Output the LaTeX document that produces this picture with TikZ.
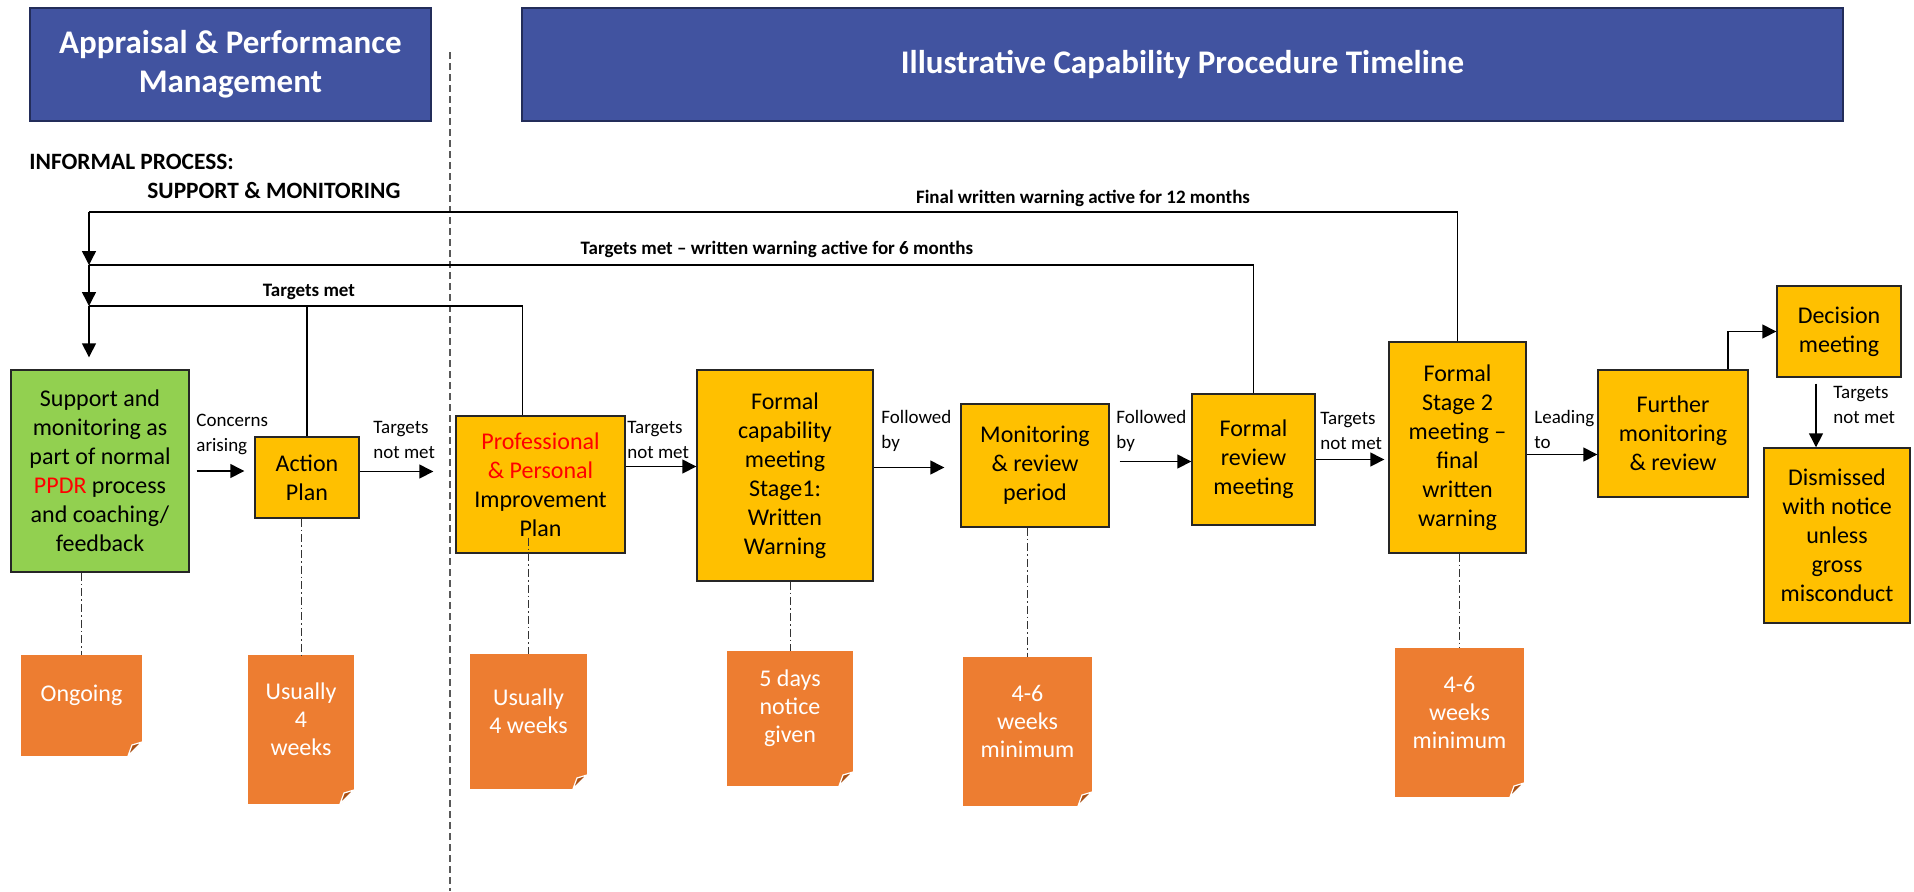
\documentclass[tikz,border=0pt]{standalone}
\usepackage{fontspec}
\setmainfont{Carlito}
\usepackage{xcolor}
\usetikzlibrary{arrows.meta}

\definecolor{hdrblue}{RGB}{65,83,160}
\definecolor{hdrline}{RGB}{35,45,90}
\definecolor{suppgreen}{RGB}{146,208,80}
\definecolor{stageamber}{RGB}{255,192,0}
\definecolor{noteorange}{RGB}{237,125,49}
\definecolor{notefold}{RGB}{170,80,20}

\newcommand{\notebody}[3]{\parbox[c][#2][c]{#1}{\centering #3\par\vspace{10pt}}}

\tikzset{
    hdr/.style={draw=hdrline, line width=0.8pt, fill=hdrblue, text=white, align=center,
        font=\bfseries\fontsize{16.5}{19.5}\selectfont, inner sep=0pt},
    phase/.style={anchor=west, inner sep=0pt, font=\bfseries\fontsize{11.7}{14}\selectfont},
    stage/.style={draw=black!85, line width=0.7pt, fill=stageamber, align=center,
        font=\fontsize{12}{14.5}\selectfont, inner sep=0pt},
    notecard/.style={fill=noteorange, text=white, inner sep=0pt,
        font=\fontsize{12}{14}\selectfont,
        path picture={
            \fill[white] (path picture bounding box.south east) -- ++(-7pt,0pt) -- ++(7pt,7pt) -- cycle;
            \filldraw[notefold, draw=white, line width=0.6pt] ([xshift=-7pt]path picture bounding box.south east)
                -- ++(7pt,7pt) -- ++(-5pt,-1.5pt) -- cycle;
        }},
    lbl/.style={anchor=west, align=left, inner sep=0pt, font=\fontsize{9.5}{12.5}\selectfont},
    toplbl/.style={inner sep=0pt, font=\bfseries\fontsize{9.5}{11}\selectfont},
    link/.style={line width=0.7pt},
    arr/.style={line width=0.7pt, -{Triangle[length=7pt,width=7pt]}},
    timing/.style={line width=0.5pt, black!80, dash pattern=on 4pt off 1.5pt on 0.8pt off 1.5pt},
    divider/.style={line width=0.7pt, black!65, dash pattern=on 3.5pt off 2pt}
}

\begin{document}
\begin{tikzpicture}[x=0.5pt,y=-0.5pt]
    \useasboundingbox (0,0) rectangle (1914,891);

    \node[hdr, minimum width=200.5pt, minimum height=56.5pt] (apm) at (230.5,64.5) {Appraisal \& Performance\\Management};
    \node[hdr, minimum width=660.5pt, minimum height=56.5pt] (icpt) at (1182.5,64.5) {Illustrative Capability Procedure Timeline};
    \draw[divider] (450,52) -- (450,891);
    \node[phase] (informal) at (29,162) {INFORMAL PROCESS:};
    \node[phase] (supmon) at (147,190) {SUPPORT \& MONITORING};

    \node[stage, fill=suppgreen, minimum width=89pt, minimum height=101pt] (support) at (100,471)
        {Support and\\monitoring as\\part of normal\\\textcolor{red}{PPDR} process\\and coaching/\\feedback};
    \node[stage, minimum width=52pt, minimum height=40.5pt] (action) at (307,477.5) {Action\\Plan};
    \node[stage, minimum width=84.5pt, minimum height=68.5pt] (pip) at (540.5,484.5)
        {\textcolor{red}{Professional}\\\textcolor{red}{\& Personal}\\Improvement\\Plan};
    \node[stage, minimum width=88pt, minimum height=105.5pt] (stage1) at (785,475.5)
        {Formal\\capability\\meeting\\Stage1:\\Written\\Warning};
    \node[stage, minimum width=74pt, minimum height=61.5pt] (monitor) at (1035,465.5) {Monitoring\\\& review\\period};
    \node[stage, minimum width=61.5pt, minimum height=65.5pt] (review) at (1253.5,459.5) {Formal\\review\\meeting};
    \node[stage, minimum width=68.5pt, minimum height=105.5pt] (stage2) at (1457.5,447.5)
        {Formal\\Stage 2\\meeting --\\final\\written\\warning};
    \node[stage, minimum width=75pt, minimum height=63.5pt] (further) at (1673,433.5) {Further\\monitoring\\\& review};
    \node[stage, minimum width=62pt, minimum height=45.5pt] (decision) at (1839,331.5) {Decision\\meeting};
    \node[stage, minimum width=73pt, minimum height=87.5pt] (dismiss) at (1837,535.5)
        {Dismissed\\with notice\\unless\\gross\\misconduct};

    \node[notecard] (ongoing) at (81.5,705.5) {\notebody{60.5pt}{50.5pt}{Ongoing}};
    \node[notecard] (apweeks) at (301,729.5) {\notebody{53pt}{74.5pt}{Usually\\4\\weeks}};
    \node[notecard] (pipweeks) at (528.5,721.5) {\notebody{58.5pt}{67.5pt}{Usually\\4 weeks}};
    \node[notecard] (notice) at (790,718.5) {\notebody{63pt}{67.5pt}{5 days\\notice\\given}};
    \node[notecard] (monweeks) at (1027.5,731.5) {\notebody{64.5pt}{74.5pt}{4-6\\weeks\\minimum}};
    \node[notecard] (finalweeks) at (1459.5,722.5) {\notebody{64.5pt}{74.5pt}{4-6\\weeks\\minimum}};

    \coordinate (j12) at (89,212);
    \coordinate (j6) at (89,265);
    \coordinate (j3) at (89,306);

    \draw[link] (stage2.north) |- (j12);
    \draw[arr] (j12) -- (j6);
    \draw[link] (review.north) |- (j6);
    \draw[arr] (j6) -- (j3);
    \draw[link] ([xshift=-9pt]pip.north) |- (j3);
    \draw[link] (action.north) -- (action.north |- j3);
    \draw[arr, shorten >=6pt] (j3) -- (j3 |- support.north);

    \node[toplbl] (warn12) at (1083,198) {Final written warning active for 12 months};
    \node[toplbl] (warn6) at (777,249) {Targets met -- written warning active for 6 months};
    \node[toplbl] (metinf) at (309,292) {Targets met};

    \draw[arr, shorten <=3.5pt, shorten >=5pt] (support.east) -- (support.east -| action.west);
    \draw[arr, shorten >=11pt] ([yshift=3pt]action.east) -- ([yshift=3pt]action.east -| pip.west);
    \draw[arr] ([yshift=9pt]pip.east) -- ([yshift=9pt]pip.east -| stage1.west);
    \draw[arr, shorten >=8pt] ([yshift=4pt]stage1.east) -- ([yshift=4pt]stage1.east -| monitor.west);
    \draw[arr, shorten <=5pt] ([yshift=2pt]monitor.east) -- ([yshift=2pt]monitor.east -| review.west);
    \draw[arr, shorten >=2pt] (review.east) -- (review.east -| stage2.west);
    \draw[arr] ([yshift=-3.5pt]stage2.east) -- ([yshift=-3.5pt]stage2.east -| further.west);
    \draw[arr] ([xshift=27.5pt]further.north) |- (decision.west);
    \draw[arr, shorten <=3pt] ([xshift=-11.5pt]decision.south) -- ([xshift=-11.5pt]decision.south |- dismiss.north);

    \node[lbl] (concerns) at (196,434.5) {Concerns\\arising};
    \node[lbl] (notmetap) at (373,440) {Targets\\not met};
    \node[lbl] (notmetpip) at (627,440) {Targets\\not met};
    \node[lbl] (followone) at (881,430.5) {Followed\\by};
    \node[lbl] (followtwo) at (1116,430.5) {Followed\\by};
    \node[lbl] (notmetrev) at (1320,431) {Targets\\not met};
    \node[lbl] (leading) at (1534,429.5) {Leading\\to};
    \node[lbl] (notmetdec) at (1833,404.5) {Targets\\not met};

    \draw[timing] (ongoing.north |- support.south) -- (ongoing.north);
    \draw[timing] (apweeks.north |- action.south) -- (apweeks.north);
    \draw[timing] ([yshift=8pt]pipweeks.north |- pip.south) -- (pipweeks.north);
    \draw[timing] (notice.north |- stage1.south) -- (notice.north);
    \draw[timing] (monweeks.north |- monitor.south) -- (monweeks.north);
    \draw[timing] (finalweeks.north |- stage2.south) -- (finalweeks.north);
\end{tikzpicture}
\end{document}
